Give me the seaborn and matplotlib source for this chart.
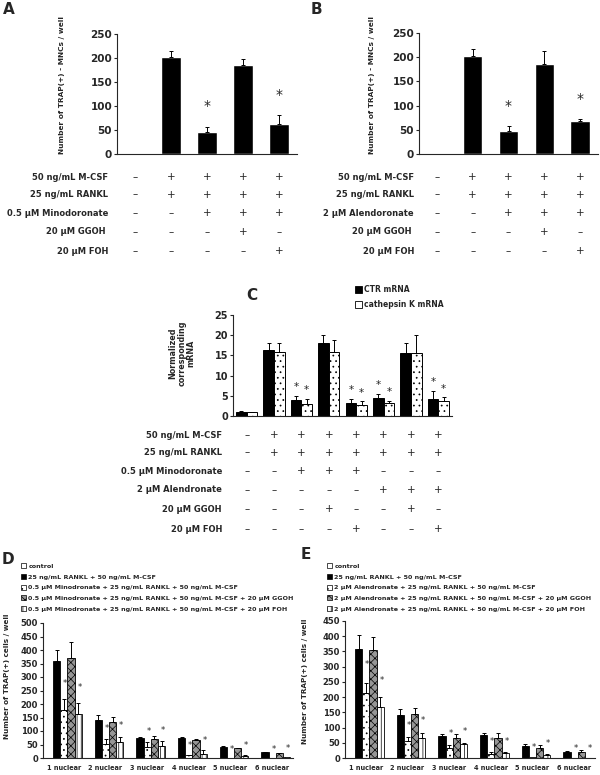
import numpy as np
import pandas as pd
import matplotlib
matplotlib.use('Agg')
import matplotlib.pyplot as plt
import seaborn as sns
from matplotlib.patches import Patch
from matplotlib import transforms

# ---- panel A / B : TRAP(+) MNCs per well ----
ab_conditions = ['control', 'RANKL', 'drug', 'drug+GGOH', 'drug+FOH']
a_values = [0, 203, 46, 186, 63]
a_errors = [0, 12, 11, 12, 18]
a_signif = [False, False, True, False, True]
b_values = [0, 203, 48, 185, 68]
b_errors = [0, 13, 9, 27, 4]
b_signif = [False, False, True, False, True]

a_rows = ['50 ng/mL M-CSF', '25 ng/mL RANKL', '0.5 \u03bcM Minodoronate',
          '20 \u03bcM GGOH ', '20 \u03bcM FOH']
b_rows = ['50 ng/mL M-CSF', '25 ng/mL RANKL', '2 \u03bcM Alendoronate',
          '20 \u03bcM GGOH ', '20 \u03bcM FOH']
ab_table = [
    ['-', '+', '+', '+', '+'],
    ['-', '+', '+', '+', '+'],
    ['-', '-', '+', '+', '+'],
    ['-', '-', '-', '+', '-'],
    ['-', '-', '-', '-', '+'],
]

# ---- panel C : normalized mRNA ----
c_conditions = ['c1', 'c2', 'c3', 'c4', 'c5', 'c6', 'c7', 'c8']
c_genes = ['CTR mRNA', 'cathepsin K mRNA']
c_ctr = [1.05, 16.3, 3.9, 18.0, 3.1, 4.5, 15.5, 4.2]
c_ctr_err = [0.1, 1.8, 1.15, 2.0, 1.2, 0.85, 2.5, 1.9]
c_ctsk = [1.0, 15.9, 2.9, 15.9, 2.6, 3.1, 15.7, 3.6]
c_ctsk_err = [0.1, 2.2, 1.4, 2.9, 1.0, 0.6, 4.3, 1.0]
c_signif = [False, False, True, False, True, True, False, True]
c_rows = ['50 ng/mL M-CSF', '25 ng/mL RANKL', '0.5 \u03bcM Minodoronate',
          '2 \u03bcM Alendronate', '20 \u03bcM GGOH', '20 \u03bcM FOH']
c_table = [
    ['-', '+', '+', '+', '+', '+', '+', '+'],
    ['-', '+', '+', '+', '+', '+', '+', '+'],
    ['-', '-', '+', '+', '+', '-', '-', '-'],
    ['-', '-', '-', '-', '-', '+', '+', '+'],
    ['-', '-', '-', '+', '-', '-', '+', '-'],
    ['-', '-', '-', '-', '+', '-', '-', '+'],
]

# ---- panels D / E : TRAP(+) cells by nuclear number ----
nuclei = ['1 nuclear', '2 nuclear', '3 nuclear', '4 nuclear', '5 nuclear', '6 nuclear']
series_keys = ['control', 'rankl', 'drug', 'drug_ggoh', 'drug_foh']
starred = ['drug', 'drug_foh']

d_labels = ['control', '25 ng/mL RANKL + 50 ng/mL M-CSF',
            '0.5 \u03bcM Minodronate + 25 ng/mL RANKL + 50 ng/mL M-CSF',
            '0.5 \u03bcM Minodronate + 25 ng/mL RANKL + 50 ng/mL M-CSF + 20 \u03bcM GGOH',
            '0.5 \u03bcM Minodronate + 25 ng/mL RANKL + 50 ng/mL M-CSF + 20 \u03bcM FOH']
d_values = {
    'control':   [0, 0, 0, 0, 0, 0],
    'rankl':     [358, 142, 74, 74, 40, 21],
    'drug':      [178, 52, 42, 10, 1, 1],
    'drug_ggoh': [372, 135, 70, 68, 36, 18],
    'drug_foh':  [163, 58, 45, 15, 6, 4],
}
d_errors = {
    'control':   [0, 0, 0, 0, 0, 0],
    'rankl':     [43, 17, 4, 4, 4, 2],
    'drug':      [39, 18, 16, 2, 0, 0],
    'drug_ggoh': [58, 16, 10, 2, 2, 1],
    'drug_foh':  [41, 20, 17, 15, 6, 0],
}

e_labels = ['control', '25 ng/mL RANKL + 50 ng/mL M-CSF',
            '2 \u03bcM Alendronate + 25 ng/mL RANKL + 50 ng/mL M-CSF',
            '2 \u03bcM Alendronate + 25 ng/mL RANKL + 50 ng/mL M-CSF + 20 \u03bcM GGOH',
            '2 \u03bcM Alendronate + 25 ng/mL RANKL + 50 ng/mL M-CSF + 20 \u03bcM FOH']
e_values = {
    'control':   [0, 0, 0, 0, 0, 0],
    'rankl':     [357, 141, 73, 75, 40, 20],
    'drug':      [215, 57, 33, 12, 2, 0],
    'drug_ggoh': [354, 143, 67, 65, 32, 20],
    'drug_foh':  [169, 67, 46, 15, 11, 0],
}
e_errors = {
    'control':   [0, 0, 0, 0, 0, 0],
    'rankl':     [46, 19, 6, 6, 5, 4],
    'drug':      [30, 11, 10, 9, 0, 0],
    'drug_ggoh': [42, 20, 11, 16, 12, 7],
    'drug_foh':  [30, 14, 3, 4, 2, 0],
}

# bar styles: (facecolor, hatch)
series_style = {
    'control': ('white', ''),
    'rankl': ('black', ''),
    'drug': ('white', '...'),
    'drug_ggoh': ('#969696', 'xxxx'),
    'drug_foh': ('white', '||||'),
}

sns.set_style('ticks')
plt.rcParams['font.family'] = ['DejaVu Sans']
plt.rcParams['font.weight'] = 'bold'
plt.rcParams['hatch.linewidth'] = 0.5
plt.rcParams['axes.linewidth'] = 0.8

W, H = 600, 775
fig = plt.figure(figsize=(6, 7.75), dpi=100)


def box(left, top, right, bottom):
    return [left / W, 1 - bottom / H, (right - left) / W, (bottom - top) / H]


def fx(x):
    return x / W


def fy(y):
    return 1 - y / H


def style_axis(ax, ymax, step, tick_size):
    ax.set_ylim(0, ymax)
    ax.set_yticks(np.arange(0, ymax + 1e-9, step))
    sns.despine(ax=ax)
    ax.tick_params(axis='y', length=2.5, width=0.8, pad=1, labelsize=tick_size)
    ax.tick_params(axis='x', length=0)
    for lab in ax.get_yticklabels():
        lab.set_fontweight('bold')
    ax.set_xlabel('')
    ax.set_ylabel('')
    ax.set_facecolor('none')


def add_errors(ax, bars, errs):
    xs = np.array([b.get_x() + b.get_width() / 2 for b in bars])
    ys = np.array([b.get_height() for b in bars])
    errs = np.array(errs, dtype=float)
    keep = errs > 0
    ax.errorbar(xs[keep], ys[keep], yerr=[np.zeros(keep.sum()), errs[keep]],
                fmt='none', ecolor='black', elinewidth=0.7, capsize=1.6, capthick=0.7, zorder=3)
    return xs, ys + errs


def draw_table(ax, rows, table, label_x, row_ys, label_size):
    trans = transforms.blended_transform_factory(ax.transData, fig.transFigure)
    for label, marks, y in zip(rows, table, row_ys):
        fig.text(fx(label_x), fy(y), label, ha='right', va='center',
                 fontsize=label_size, fontweight='bold')
        for i, m in enumerate(marks):
            ax.text(i, fy(y), '+' if m == '+' else '\u2013', transform=trans,
                    ha='center', va='center', fontsize=7.5, fontweight='normal')


# ---------------- A and B ----------------
ab_specs = [
    ('A', box(117, 34, 297, 154), a_values, a_errors, a_signif, a_rows, 108, 62, 3),
    ('B', box(419, 33, 598, 154), b_values, b_errors, b_signif, b_rows, 414, 372, 311),
]
ab_row_ys = [177, 194.5, 213, 232, 251.5]
for letter, rect, vals, errs, sig, rows, lab_x, ylab_x, letter_x in ab_specs:
    ax = fig.add_axes(rect)
    sns.barplot(x=ab_conditions, y=vals, color='black', saturation=1, width=0.54, ax=ax)
    ax.set_xlim(-0.5, 4.5)
    style_axis(ax, 250, 50, 7.5)
    ax.set_xticks([])
    xs, tops = add_errors(ax, ax.containers[0], errs)
    for x, t, s in zip(xs, tops, sig):
        if s:
            ax.text(x, t + 42, '*', ha='center', va='center', fontsize=10, fontweight='normal')
    draw_table(ax, rows, ab_table, lab_x, ab_row_ys, 6)
    fig.text(fx(ylab_x), fy(85), 'Number of TRAP(+) - MNCs / well', rotation=90,
             ha='center', va='center', fontsize=5.3, fontweight='bold')
    fig.text(fx(letter_x), fy(2), letter, ha='left', va='top', fontsize=11, fontweight='bold')

# ---------------- C ----------------
axc = fig.add_axes(box(233, 315, 452, 416))
df_c = pd.DataFrame({
    'condition': c_conditions * 2,
    'gene': [c_genes[0]] * len(c_conditions) + [c_genes[1]] * len(c_conditions),
    'value': c_ctr + c_ctsk,
})
sns.barplot(data=df_c, x='condition', y='value', hue='gene', hue_order=c_genes,
            palette={c_genes[0]: 'black', c_genes[1]: 'white'}, saturation=1,
            width=0.78, edgecolor='black', linewidth=0.7, legend=False, ax=axc)
axc.set_xlim(-0.5, 7.5)
style_axis(axc, 25, 5, 7)
axc.set_xticks([])
for bar in axc.containers[1]:
    bar.set_hatch('...')
for cont, errs in zip(axc.containers, [c_ctr_err, c_ctsk_err]):
    xs, tops = add_errors(axc, cont, errs)
    for x, t, s in zip(xs, tops, c_signif):
        if s:
            axc.text(x, t + 2.2, '*', ha='center', va='center', fontsize=7.5, fontweight='normal')
draw_table(axc, c_rows, c_table, 222, [435, 452.5, 471, 490, 509.5, 529], 6)
fig.text(fx(182), fy(353), 'Normalized\ncorresponding\nmRNA', rotation=90, ha='center',
         va='center', fontsize=5.8, fontweight='bold', linespacing=1.05)
fig.text(fx(246), fy(288), 'C', ha='left', va='top', fontsize=11, fontweight='bold')
c_handles = [Patch(facecolor='black', edgecolor='black', linewidth=0.6),
             Patch(facecolor='white', edgecolor='black', linewidth=0.6)]
fig.legend(c_handles, c_genes, loc='upper left', bbox_to_anchor=(fx(355), fy(285)),
           frameon=False, handlelength=0.9, handleheight=0.9,
           handletextpad=0.3, labelspacing=0.8, borderpad=0, borderaxespad=0,
           prop={'weight': 'bold', 'size': 5.5})

# ---------------- D and E ----------------
de_specs = [
    ('D', box(43, 623, 293, 758), d_values, d_errors, d_labels, 500, 7, 676, 2, 552, 21),
    ('E', box(345, 621, 595, 758), e_values, e_errors, e_labels, 450, 305, 681, 301, 547, 327),
]
for letter, rect, vals, errs, labels, ymax, ylab_x, ylab_y, let_x, let_y, leg_x in de_specs:
    ax = fig.add_axes(rect)
    df = pd.DataFrame({
        'nuclei': nuclei * len(series_keys),
        'series': [k for k in series_keys for _ in nuclei],
        'count': [v for k in series_keys for v in vals[k]],
    })
    sns.barplot(data=df, x='nuclei', y='count', hue='series', hue_order=series_keys,
                palette={k: series_style[k][0] for k in series_keys}, saturation=1,
                width=0.86, edgecolor='black', linewidth=0.6, legend=False, ax=ax)
    ax.set_xlim(-0.5, 5.5)
    style_axis(ax, ymax, 50, 6)
    ax.tick_params(axis='x', labelsize=4.7, pad=5)
    for lab in ax.get_xticklabels():
        lab.set_fontweight('bold')
    for key, cont in zip(series_keys, ax.containers):
        for bar in cont:
            bar.set_hatch(series_style[key][1])
        xs, tops = add_errors(ax, cont, errs[key])
        if key in starred:
            for x, t in zip(xs, tops):
                ax.text(x + 0.03, t + 32 + 0.12 * t, '*', ha='center', va='center',
                        fontsize=6, fontweight='normal')
    fig.text(fx(ylab_x), fy(ylab_y), 'Number of TRAP(+) cells / well', rotation=90,
             ha='center', va='center', fontsize=5.2, fontweight='bold')
    fig.text(fx(let_x), fy(let_y), letter, ha='left', va='top', fontsize=11, fontweight='bold')
    handles = [Patch(facecolor=series_style[k][0], hatch=series_style[k][1],
                     edgecolor='black', linewidth=0.5) for k in series_keys]
    fig.legend(handles, labels, loc='upper left', bbox_to_anchor=(fx(leg_x), fy(563.5)),
               frameon=False, handlelength=0.8, handleheight=0.8, handletextpad=0.35,
               labelspacing=0.78, borderpad=0, borderaxespad=0,
               prop={'weight': 'bold', 'size': 4.6})

fig.savefig('out.png', dpi=100, facecolor='white')
